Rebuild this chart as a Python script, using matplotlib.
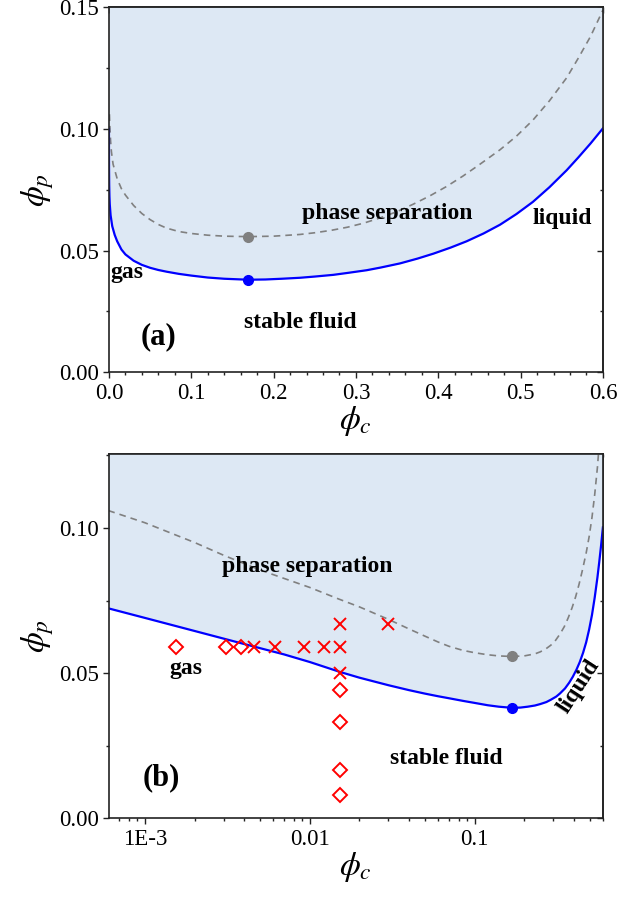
import numpy as np
import matplotlib
matplotlib.use("Agg")
import matplotlib.pyplot as plt
from matplotlib.ticker import FixedLocator, MultipleLocator, NullFormatter, LogLocator

plt.rcParams['font.family'] = ['Liberation Serif', 'DejaVu Serif']
plt.rcParams['mathtext.fontset'] = 'stix'

# ---------------- data ----------------
binodal_phi_c = [1e-5, 3e-5, 1e-4, 3e-4, 6e-4, 1e-3, 2e-3, 4e-3, 0.007, 0.01, 0.0152, 0.02,
                 0.03, 0.04, 0.05, 0.06, 0.07, 0.085, 0.1, 0.12, 0.14, 0.169, 0.19, 0.21,
                 0.232, 0.25, 0.2725, 0.29, 0.313, 0.33, 0.3535, 0.375, 0.394, 0.415,
                 0.4345, 0.455, 0.475, 0.495, 0.515, 0.535, 0.556, 0.57, 0.585, 0.6]
binodal_phi_p = [0.100, 0.0925, 0.0843, 0.0770, 0.0723, 0.0690, 0.0645, 0.0600, 0.0564, 0.0538, 0.0504, 0.0484,
                 0.0458, 0.0441, 0.0429, 0.0420, 0.0413, 0.0404, 0.0397, 0.0389, 0.0384, 0.0380, 0.0381, 0.0384,
                 0.0388, 0.0393, 0.0400, 0.0408, 0.0419, 0.0430, 0.0447, 0.0467, 0.0487, 0.0512,
                 0.0538, 0.0570, 0.0606, 0.0650, 0.0700, 0.0760, 0.0830, 0.0882, 0.0940, 0.1002]

spinodal_phi_c = [6e-4, 1e-3, 2e-3, 3e-3, 5e-3, 0.01, 0.015, 0.02, 0.03, 0.04, 0.05, 0.06,
                  0.07, 0.085, 0.1, 0.12, 0.14, 0.169, 0.2, 0.232, 0.25, 0.27, 0.29, 0.31,
                  0.33, 0.35, 0.37, 0.39, 0.41, 0.43, 0.45, 0.475, 0.495, 0.515, 0.535,
                  0.556, 0.57, 0.585, 0.6]
spinodal_phi_p = [0.106, 0.1018, 0.0950, 0.0906, 0.0855, 0.0795, 0.0755, 0.0728, 0.0685, 0.0652, 0.0627, 0.0607,
                  0.0592, 0.0578, 0.0570, 0.0563, 0.0559, 0.0557, 0.0559, 0.0566, 0.0573, 0.0583, 0.0596, 0.0613,
                  0.0635, 0.0660, 0.0691, 0.0725, 0.0763, 0.0806, 0.0853, 0.0914, 0.0970, 0.1036, 0.1115,
                  0.1210, 0.1290, 0.1380, 0.1488]

critical_phi_c = 0.169
critical_binodal_phi_p = 0.0380
critical_spinodal_phi_p = 0.0557

# simulation points (panel b)
stable_phi_c = [0.00154, 0.00310, 0.00382, 0.0152, 0.0152, 0.0152, 0.0152]
stable_phi_p = [0.0589, 0.0589, 0.0589, 0.0440, 0.0331, 0.0166, 0.0079]
separated_phi_c = [0.00459, 0.00614, 0.00920, 0.01216, 0.0152, 0.0152, 0.0152, 0.0299]
separated_phi_p = [0.0589, 0.0589, 0.0589, 0.0589, 0.0589, 0.0669, 0.0500, 0.0669]

top_xticks = [0.0, 0.1, 0.2, 0.3, 0.4, 0.5, 0.6]
top_xticklabels = ['0.0', '0.1', '0.2', '0.3', '0.4', '0.5', '0.6']
top_yticks = [0.00, 0.05, 0.10, 0.15]
top_yticklabels = ['0.00', '0.05', '0.10', '0.15']
bot_xticks = [1e-3, 1e-2, 1e-1]
bot_xticklabels = ['1E-3', '0.01', '0.1']
bot_yticks = [0.00, 0.05, 0.10]
bot_yticklabels = ['0.00', '0.05', '0.10']

FILL = '#dde8f4'
BLUE = '#0000ff'
GRAY = '#808080'
RED = '#ff0000'

fig = plt.figure(figsize=(6.19, 8.99), dpi=100)
ax1 = fig.add_axes([0.176, 0.586, 0.798, 0.406])
ax2 = fig.add_axes([0.176, 0.090, 0.798, 0.405])


def style_axes(ax):
    for s in ax.spines.values():
        s.set_linewidth(1.2)
        s.set_color('#222222')
    ax.tick_params(which='major', direction='out', length=4.5, width=1.0,
                   labelsize=16.5, color='#222222', pad=3)
    ax.tick_params(which='minor', direction='out', length=2.5, width=1.0, color='#222222')
    ax.tick_params(top=False, right=False)
    secx = ax.secondary_xaxis('top')
    secy = ax.secondary_yaxis('right')
    for sec in (secx, secy):
        sec.tick_params(which='major', direction='in', length=4.5, width=1.0, color='#222222')
        sec.tick_params(which='minor', direction='in', length=2.5, width=1.0, color='#222222')
        for s in sec.spines.values():
            s.set_linewidth(1.2)
            s.set_color('#222222')
    return secx, secy


tk = dict(fontsize=17, fontweight='bold', ha='center', va='center')

# ---------------- panel (a) ----------------
ax1.set_xlim(0, 0.6)
ax1.set_ylim(0, 0.15)
ax1.fill_between(binodal_phi_c, binodal_phi_p, 0.15, color=FILL, lw=0)
ax1.plot(spinodal_phi_c, spinodal_phi_p, color=GRAY, lw=1.2, dashes=(4, 3))
ax1.plot(binodal_phi_c, binodal_phi_p, color=BLUE, lw=1.6)
ax1.plot([critical_phi_c], [critical_spinodal_phi_p], 'o', color=GRAY, ms=7, zorder=5)
ax1.plot([critical_phi_c], [critical_binodal_phi_p], 'o', color=BLUE, ms=7, zorder=5)
sx, sy = style_axes(ax1)
ax1.xaxis.set_major_locator(FixedLocator(top_xticks))
ax1.set_xticklabels(top_xticklabels)
ax1.yaxis.set_major_locator(FixedLocator(top_yticks))
ax1.set_yticklabels(top_yticklabels)
ax1.xaxis.set_minor_locator(MultipleLocator(0.02))
ax1.yaxis.set_minor_locator(MultipleLocator(0.025))
sx.xaxis.set_major_locator(FixedLocator(top_xticks))
sx.xaxis.set_minor_locator(MultipleLocator(0.02))
sx.set_xticklabels([])
sy.yaxis.set_major_locator(FixedLocator(top_yticks))
sy.yaxis.set_minor_locator(MultipleLocator(0.025))
sy.set_yticklabels([])
ax1.set_xlabel(r'$\phi_c$', fontsize=24, labelpad=0)
ax1.set_ylabel(r'$\phi_p$', fontsize=24, labelpad=2)

ax1.text(0.338, 0.0653, 'phase separation', **tk)
ax1.text(0.551, 0.0633, 'liquid', **tk)
ax1.text(0.0015, 0.0411, 'gas', fontsize=17, fontweight='bold', ha='left', va='center')
ax1.text(0.232, 0.0205, 'stable fluid', **tk)
ax1.text(0.0607, 0.0144, '(a)', fontsize=22, fontweight='bold', ha='center', va='center')

# ---------------- panel (b) ----------------
ax2.set_xscale('log')
ax2.set_xlim(6.05e-4, 0.6)
ax2.set_ylim(0, 0.1255)
ax2.fill_between(binodal_phi_c, binodal_phi_p, 0.1255, color=FILL, lw=0)
ax2.plot(spinodal_phi_c, spinodal_phi_p, color=GRAY, lw=1.2, dashes=(4, 3))
ax2.plot(binodal_phi_c, binodal_phi_p, color=BLUE, lw=1.6)
ax2.plot([critical_phi_c], [critical_spinodal_phi_p], 'o', color=GRAY, ms=7, zorder=5)
ax2.plot([critical_phi_c], [critical_binodal_phi_p], 'o', color=BLUE, ms=7, zorder=5)
ax2.plot(stable_phi_c, stable_phi_p, 'D', ms=7, mfc='none', mec=RED, mew=1.4, ls='none', zorder=6)
ax2.plot(separated_phi_c, separated_phi_p, 'x', ms=9, color=RED, mew=1.4, ls='none', zorder=6)
sx2, sy2 = style_axes(ax2)
ax2.xaxis.set_major_locator(FixedLocator(bot_xticks))
ax2.set_xticklabels(bot_xticklabels)
ax2.xaxis.set_minor_locator(LogLocator(base=10, subs=np.arange(2, 10)))
ax2.xaxis.set_minor_formatter(NullFormatter())
ax2.yaxis.set_major_locator(FixedLocator(bot_yticks))
ax2.set_yticklabels(bot_yticklabels)
ax2.yaxis.set_minor_locator(MultipleLocator(0.025))
sx2.xaxis.set_major_locator(FixedLocator(bot_xticks))
sx2.xaxis.set_minor_locator(LogLocator(base=10, subs=np.arange(2, 10)))
sx2.xaxis.set_minor_formatter(NullFormatter())
sx2.set_xticklabels([])
sy2.yaxis.set_major_locator(FixedLocator(bot_yticks))
sy2.yaxis.set_minor_locator(MultipleLocator(0.025))
sy2.set_yticklabels([])
ax2.set_xlabel(r'$\phi_c$', fontsize=24, labelpad=0)
ax2.set_ylabel(r'$\phi_p$', fontsize=24, labelpad=2)

ax2.text(0.00972, 0.0867, 'phase separation', **tk)
ax2.text(0.00177, 0.0516, 'gas', **tk)
ax2.text(0.0676, 0.0206, 'stable fluid', **tk)
ax2.text(0.00126, 0.0140, '(b)', fontsize=22, fontweight='bold', ha='center', va='center')
ax2.text(0.43, 0.0455, 'liquid', fontsize=17, fontweight='bold', ha='center', va='center',
         rotation=57, rotation_mode='anchor')

fig.savefig('out.png', dpi=100)
